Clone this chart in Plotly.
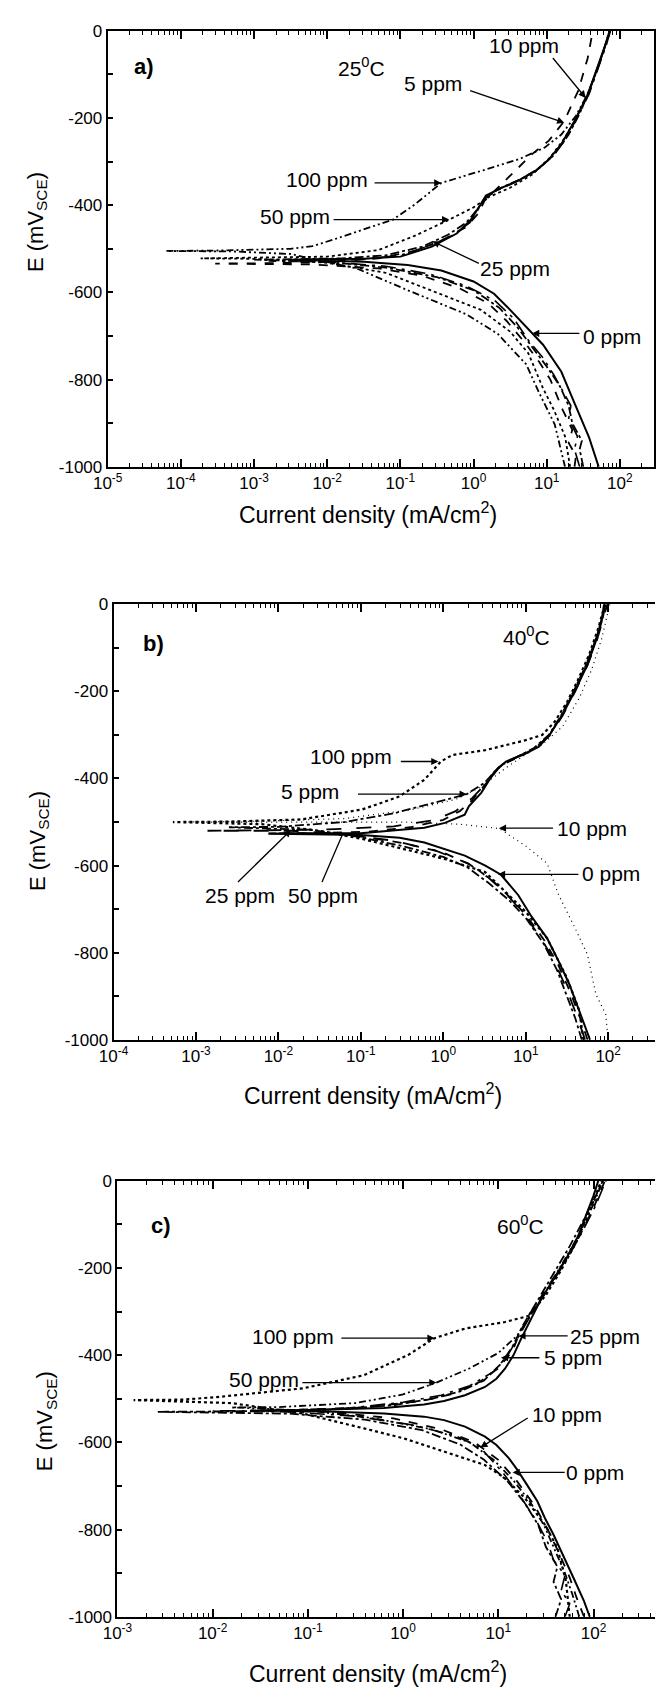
import numpy as np
import plotly.graph_objects as go

W, H = 656, 1696
FONT = "Liberation Sans, Arial, sans-serif"

# ---------------- Panel a) 25 C : log10(i / mA cm-2) and E (mV vs SCE) ----------------
a_0ppm_logi = [1.71, 1.58, 1.39, 1.2, 0.95, 0.8, 0.5, 0.28, 0.0, -0.44, -0.9, -1.5, -2.0, -2.5,
               -2.2, -1.5, -1.0, -0.57, -0.23, -0.04, 0.09, 0.17, 0.36, 0.63, 0.84, 1.03, 1.2, 1.38, 1.56, 1.69, 1.8, 1.86]
a_0ppm_E = [-1000, -933, -858, -782, -720, -693, -640, -603, -575, -550, -537, -530, -527, -525,
            -524, -523, -518, -495, -465, -434, -400, -378, -362, -342, -322, -295, -260, -207, -147, -86, -33, 0]

a_5ppm_logi = [1.5, 1.45, 1.48, 1.35, 1.3, 1.18, 1.0, 0.8, 0.6, 0.35, 0.0, -0.5, -1.2, -2.0, -3.0,
               -2.5, -1.8, -1.2, -0.7, -0.35, -0.1, 0.05, 0.15, 0.35, 0.65, 0.9, 1.1, 1.3, 1.45, 1.6, 1.73, 1.82, 1.87]
a_5ppm_E = [-1000, -960, -940, -900, -860, -815, -770, -725, -680, -635, -595, -565, -543, -530, -525,
            -524, -522, -515, -495, -468, -440, -410, -385, -362, -340, -315, -285, -238, -190, -130, -70, -25, 0]

a_10ppm_logi = [1.38, 1.4, 1.3, 1.35, 1.22, 1.15, 1.05, 0.9, 0.7, 0.45, 0.2, -0.2, -0.7, -1.3, -2.2, -3.53,
                -2.8, -2.0, -1.3, -0.8, -0.4, -0.1, 0.06, 0.15, 0.3, 0.44, 0.8, 1.03, 1.24, 1.43, 1.56, 1.63]
a_10ppm_E = [-1000, -975, -945, -915, -870, -840, -800, -760, -715, -665, -625, -590, -562, -545, -536, -534,
             -533, -530, -522, -505, -478, -450, -420, -390, -365, -343, -283, -252, -207, -138, -63, 0]

a_25ppm_logi = [1.45, 1.38, 1.42, 1.3, 1.33, 1.2, 1.1, 0.95, 0.75, 0.55, 0.3, -0.1, -0.6, -1.2, -2.0, -2.8,
                -2.2, -1.6, -1.0, -0.6, -0.3, -0.05, 0.08, 0.15, 0.3, 0.6, 0.85, 1.05, 1.22, 1.4, 1.58, 1.7, 1.82, 1.87]
a_25ppm_E = [-1000, -960, -930, -890, -860, -820, -790, -750, -710, -660, -620, -585, -558, -540, -530, -528,
             -527, -525, -515, -493, -470, -440, -405, -385, -368, -345, -322, -293, -258, -205, -145, -86, -30, 0]

a_50ppm_logi = [1.32, 1.25, 1.1, 0.95, 0.75, 0.5, 0.1, -0.5, -1.2, -2.0, -3.0, -3.73,
                -3.0, -2.0, -1.3, -0.8, -0.33, 0.0, 0.2, 0.5, 0.8, 1.05, 1.25, 1.42, 1.57, 1.7, 1.8, 1.87]
a_50ppm_E = [-1000, -930, -870, -820, -740, -690, -640, -600, -555, -532, -523, -522,
             -521, -518, -503, -470, -433, -405, -382, -360, -330, -290, -245, -195, -140, -85, -35, 0]

a_100ppm_logi = [1.25, 1.11, 0.89, 0.72, 0.33, -0.1, -0.9, -1.6, -2.5, -3.3, -4.2,
                 -3.5, -2.5, -2.2, -1.9, -1.5, -1.1, -0.8, -0.44, 0.13, 0.63, 0.97, 1.2, 1.4, 1.56, 1.7, 1.8, 1.86]
a_100ppm_E = [-1000, -903, -828, -765, -695, -650, -595, -545, -512, -506, -505,
              -504, -500, -494, -478, -455, -433, -398, -349, -320, -294, -268, -238, -195, -145, -86, -35, 0]

# ---------------- Panel b) 40 C ----------------
b_0ppm_logi = [1.78, 1.65, 1.53, 1.4, 1.26, 1.06, 0.91, 0.7, 0.51, 0.26, -0.23, -0.53, -1.0, -1.6, -2.12,
               -1.8, -1.0, -0.23, 0.02, 0.26, 0.31, 0.46, 0.56, 0.66, 0.76, 0.96, 1.16, 1.3, 1.45, 1.6, 1.75, 1.85, 1.92, 1.95]
b_0ppm_E = [-1000, -933, -873, -820, -767, -714, -668, -621, -600, -577, -547, -536, -530, -528, -527,
            -526, -526, -513, -502, -483, -464, -433, -403, -377, -361, -346, -327, -297, -252, -198, -138, -85, -40, 0]

b_5ppm_logi = [1.68, 1.6, 1.5, 1.38, 1.22, 1.0, 0.8, 0.55, 0.3, 0.0, -0.5, -1.0, -1.6, -2.6,
               -2.0, -1.2, -0.6, -0.1, 0.284, 0.5, 0.62, 0.72, 0.9, 1.1, 1.28, 1.43, 1.58, 1.73, 1.86, 1.97]
b_5ppm_E = [-1000, -950, -900, -840, -780, -720, -680, -640, -605, -580, -555, -535, -518, -512,
            -511, -500, -480, -455, -436, -410, -385, -368, -350, -330, -300, -255, -200, -140, -75, 0]

b_10ppm_logi = [2.0, 1.97, 1.85, 1.75, 1.6, 1.4, 1.26, 1.0, 0.68, 0.2, -0.5, -1.5, -2.5, -3.1,
                -2.2, -1.2, -0.4, 0.15, 0.45, 0.62, 0.8, 1.0, 1.2, 1.45, 1.65, 1.8, 1.92, 2.02]
b_10ppm_E = [-1000, -941, -895, -805, -744, -668, -595, -555, -515, -505, -500, -500, -500, -500,
             -498, -492, -472, -448, -420, -395, -370, -345, -322, -280, -215, -150, -80, 0]

b_25ppm_logi = [1.72, 1.62, 1.5, 1.35, 1.18, 0.98, 0.78, 0.55, 0.3, -0.1, -0.6, -1.2, -1.846, -2.86,
                -2.2, -1.4, -0.6, -0.1, 0.15, 0.35, 0.5, 0.62, 0.72, 0.92, 1.12, 1.3, 1.45, 1.6, 1.75, 1.86, 1.95, 1.99]
b_25ppm_E = [-1000, -945, -885, -820, -765, -712, -668, -628, -595, -565, -543, -528, -520, -520,
             -519, -517, -510, -495, -475, -445, -415, -385, -365, -348, -330, -300, -255, -200, -140, -85, -30, 0]

b_50ppm_logi = [1.75, 1.66, 1.55, 1.4, 1.22, 1.02, 0.82, 0.6, 0.35, 0.0, -0.5, -1.219, -2.12,
                -1.5, -0.9, -0.4, 0.0, 0.2, 0.35, 0.48, 0.6, 0.7, 0.9, 1.1, 1.28, 1.43, 1.58, 1.73, 1.85, 1.93, 1.97]
b_50ppm_E = [-1000, -950, -895, -830, -770, -718, -675, -635, -600, -570, -548, -527, -526,
             -525, -522, -512, -495, -475, -450, -420, -392, -370, -352, -333, -302, -258, -203, -143, -85, -35, 0]

b_100ppm_logi = [1.7, 1.65, 1.5, 1.26, 1.0, 0.76, 0.51, 0.02, -0.48, -0.98, -1.5, -2.2, -3.28,
                 -2.6, -1.72, -0.98, -0.53, -0.23, -0.03, 0.11, 0.51, 1.0, 1.2, 1.35, 1.5, 1.63, 1.77, 1.88, 1.96]
b_100ppm_E = [-1000, -933, -858, -767, -706, -661, -615, -585, -562, -539, -520, -505, -500,
              -499, -494, -471, -441, -403, -361, -346, -335, -312, -300, -270, -225, -175, -115, -55, 0]

# ---------------- Panel c) 60 C ----------------
c_0ppm_logi = [1.96, 1.9, 1.79, 1.68, 1.58, 1.49, 1.41, 1.3, 1.2, 1.11, 0.98, 0.86, 0.65, 0.43, 0.22, -0.2, -0.8, -1.5,
               -1.0, -0.2, 0.22, 0.43, 0.65, 0.86, 0.98, 1.07, 1.16, 1.24, 1.33, 1.45, 1.58, 1.71, 1.84, 1.92, 2.0, 2.05]
c_0ppm_E = [-1000, -964, -911, -857, -812, -774, -735, -697, -663, -636, -606, -587, -564, -549, -541, -534, -529, -527,
            -526, -521, -513, -505, -492, -473, -454, -431, -400, -362, -324, -271, -226, -180, -126, -80, -34, 0]

c_5ppm_logi = [1.6, 1.66, 1.58, 1.62, 1.5, 1.42, 1.28, 1.1, 0.85, 0.6, 0.2, -0.4, -1.2, -2.58,
               -1.8, -0.8, -0.1, 0.3, 0.6, 0.85, 1.027, 1.15, 1.25, 1.4, 1.57, 1.75, 1.92, 2.1]
c_5ppm_E = [-1000, -960, -920, -885, -840, -790, -740, -690, -640, -605, -572, -548, -534, -530,
            -529, -525, -515, -500, -483, -458, -420, -380, -335, -280, -215, -150, -80, 0]

c_10ppm_logi = [1.7, 1.75, 1.66, 1.7, 1.58, 1.52, 1.4, 1.25, 1.05, 0.811, 0.55, 0.1, -0.5, -1.2, -2.0,
                -1.4, -0.6, 0.0, 0.4, 0.7, 0.95, 1.1, 1.22, 1.35, 1.52, 1.7, 1.87, 2.02, 2.13]
c_10ppm_E = [-1000, -970, -940, -905, -870, -830, -780, -730, -670, -612, -585, -560, -540, -530, -528,
             -527, -522, -508, -492, -470, -438, -400, -355, -305, -250, -188, -122, -58, 0]

c_25ppm_logi = [1.9, 1.82, 1.75, 1.65, 1.52, 1.38, 1.2, 1.0, 0.75, 0.4, -0.1, -0.8, -1.6,
                -1.2, -0.4, 0.2, 0.5, 0.8, 1.0, 1.15, 1.211, 1.33, 1.5, 1.68, 1.85, 2.0, 2.12]
c_25ppm_E = [-1000, -955, -910, -860, -800, -745, -690, -640, -600, -570, -545, -530, -527,
             -526, -520, -505, -490, -462, -430, -390, -356, -305, -250, -190, -128, -62, 0]

c_50ppm_logi = [1.85, 1.78, 1.7, 1.6, 1.48, 1.33, 1.15, 0.95, 0.7, 0.3, -0.3, -1.0, -1.8,
                -1.3, -0.5, 0.0, 0.35, 0.7, 1.0, 1.2, 1.32, 1.48, 1.65, 1.82, 1.97, 2.1]
c_50ppm_E = [-1000, -950, -900, -850, -790, -735, -685, -640, -600, -570, -545, -527, -520,
             -519, -510, -490, -463, -430, -395, -355, -315, -260, -198, -135, -68, 0]

c_100ppm_logi = [1.75, 1.71, 1.62, 1.49, 1.28, 1.07, 0.86, 0.43, 0.01, -0.41, -1.05, -1.8, -2.83,
                 -2.3, -1.9, -1.05, -0.41, 0.05, 0.33, 0.65, 1.07, 1.32, 1.5, 1.66, 1.82, 1.96, 2.08]
c_100ppm_E = [-1000, -918, -842, -789, -728, -682, -652, -621, -591, -568, -534, -510, -503,
              -502, -495, -476, -446, -400, -361, -339, -324, -310, -262, -205, -140, -70, 0]

# axis tick labels
x_tick_exponents = {"a": list(range(-5, 3)), "b": list(range(-4, 3)), "c": list(range(-3, 3))}
y_tick_values = [-1000, -800, -600, -400, -200, 0]

# ---------------- styles / layout geometry ----------------
DDOT = "7px,3px,2px,3px,2px,3px"
styles = {
    "a": [(a_0ppm_logi, a_0ppm_E, "solid", 2.0),
          (a_5ppm_logi, a_5ppm_E, "dashdot", 1.8),
          (a_10ppm_logi, a_10ppm_E, "dash", 1.8),
          (a_25ppm_logi, a_25ppm_E, "longdashdot", 1.6),
          (a_50ppm_logi, a_50ppm_E, "dot", 1.8),
          (a_100ppm_logi, a_100ppm_E, DDOT, 1.8)],
    "b": [(b_0ppm_logi, b_0ppm_E, "solid", 2.0),
          (b_5ppm_logi, b_5ppm_E, "dashdot", 1.8),
          (b_10ppm_logi, b_10ppm_E, "1px,4px", 1.2),
          (b_25ppm_logi, b_25ppm_E, "longdash", 1.8),
          (b_50ppm_logi, b_50ppm_E, "dash", 1.8),
          (b_100ppm_logi, b_100ppm_E, "dot", 2.2)],
    "c": [(c_0ppm_logi, c_0ppm_E, "solid", 2.0),
          (c_5ppm_logi, c_5ppm_E, "dashdot", 1.8),
          (c_10ppm_logi, c_10ppm_E, "longdashdot", 1.6),
          (c_25ppm_logi, c_25ppm_E, "dash", 1.8),
          (c_50ppm_logi, c_50ppm_E, DDOT, 1.8),
          (c_100ppm_logi, c_100ppm_E, "dot", 2.2)],
}

# plot-area boxes in pixels (left, right, top, bottom) and x log-ranges
boxes = {"a": (95, 655, 22, 463), "b": (101, 656, 602, 1042.5), "c": (105, 656, 1185, 1626)}
decade_px = {"a": 75.0, "b": 84.5, "c": 97.6}
axis_ids = {"a": "", "b": "2", "c": "3"}

fig = go.Figure()
for p in ["a", "b", "c"]:
    aid = axis_ids[p]
    for logi, E, dash, wdt in styles[p]:
        fig.add_trace(go.Scatter(x=10 ** np.array(logi), y=E, mode="lines",
                                 line=dict(color="black", width=wdt, dash=dash),
                                 xaxis="x" + aid, yaxis="y" + aid, showlegend=False))

layout = dict(width=W, height=H, margin=dict(l=0, r=0, t=0, b=0),
              paper_bgcolor="white", plot_bgcolor="white", showlegend=False,
              font=dict(family=FONT, color="black", size=17))

for p in ["a", "b", "c"]:
    aid = axis_ids[p]
    l, r, t, b = boxes[p]
    exps = x_tick_exponents[p]
    lo = exps[0]
    hi = lo + (r - l) / decade_px[p]
    minors = [m * 10.0 ** e for e in range(lo, 3) for m in range(2, 10) if np.log10(m * 10.0 ** e) < hi]
    layout["xaxis" + aid] = dict(
        type="log", domain=[l / W, r / W], range=[lo, hi], anchor="y" + aid,
        tickvals=[10.0 ** e for e in exps], ticktext=["10<sup>%d</sup>" % e for e in exps],
        ticks="inside", ticklen=8, tickwidth=1.5, tickcolor="black",
        minor=dict(tickvals=minors, ticks="inside", ticklen=4, tickwidth=1.2, tickcolor="black"),
        showline=True, linewidth=2, linecolor="black", mirror="allticks",
        showgrid=False, zeroline=False, tickfont=dict(size=17, family=FONT))
    layout["yaxis" + aid] = dict(
        domain=[1 - b / H, 1 - t / H], range=[-1000, 0], anchor="x" + aid,
        tickvals=y_tick_values, ticktext=[str(v) for v in y_tick_values],
        ticks="inside", ticklen=5, tickwidth=1.5, tickcolor="black",
        minor=dict(dtick=100, ticks="inside", ticklen=5, tickwidth=1.5, tickcolor="black"),
        showline=True, linewidth=2, linecolor="black", mirror=(p == "a"),
        showgrid=False, zeroline=False, tickfont=dict(size=17, family=FONT))

anns = []


def txt(p, x, y, s, size=21, bold=False):
    aid = axis_ids[p]
    anns.append(dict(xref="x" + aid, yref="y" + aid, x=x, y=y, text=("<b>%s</b>" % s) if bold else s,
                     showarrow=False, font=dict(size=size, family=FONT, color="black"),
                     xanchor="center", yanchor="middle"))


def arr(p, tx, ty, hx, hy, head=2):
    aid = axis_ids[p]
    anns.append(dict(xref="x" + aid, yref="y" + aid, axref="x" + aid, ayref="y" + aid,
                     x=hx, y=hy, ax=tx, ay=ty, text="", showarrow=True, arrowhead=head,
                     arrowsize=1.1, arrowwidth=1.3, arrowcolor="black", standoff=0, startstandoff=0))


# panel a
txt("a", -4.507, -82, "a)", 22, True)
txt("a", -1.533, -82, "25<sup>0</sup>C", 21)
txt("a", 0.693, -34, "10 ppm"); arr("a", 1.067, -59, 1.533, -154)
txt("a", -0.56, -120, "5 ppm"); arr("a", -0.067, -136, 1.24, -211)
txt("a", -2.0, -342, "100 ppm"); arr("a", -1.373, -349, -0.44, -349)
txt("a", -2.44, -426, "50 ppm"); arr("a", -1.933, -433, -0.333, -433)
txt("a", 0.56, -546, "25 ppm"); arr("a", 0.093, -535, -0.56, -483)
txt("a", 1.893, -701, "0 ppm"); arr("a", 1.467, -694, 0.8, -694)
# panel b
txt("b", -3.515, -89, "b)", 22, True)
txt("b", 1.006, -73, "40<sup>0</sup>C", 21)
txt("b", -1.124, -350, "100 ppm"); arr("b", -0.533, -361, -0.059, -361)
txt("b", -1.621, -430, "5 ppm"); arr("b", -1.053, -436, 0.284, -436)
txt("b", 1.799, -514, "10 ppm"); arr("b", 1.349, -514, 0.675, -514)
txt("b", 2.036, -618, "0 ppm"); arr("b", 1.657, -620, 0.663, -620)
txt("b", -2.467, -668, "25 ppm"); arr("b", -2.509, -641, -1.846, -518)
txt("b", -1.456, -668, "50 ppm"); arr("b", -1.479, -641, -1.219, -527, head=0)
# panel c
txt("c", -2.539, -102, "c)", 22, True)
txt("c", 1.232, -102, "60<sup>0</sup>C", 21)
txt("c", -1.156, -358, "100 ppm"); arr("c", -0.664, -361, 0.33, -361)
txt("c", -1.463, -456, "50 ppm"); arr("c", -1.074, -463, 0.35, -463)
txt("c", 2.123, -358, "25 ppm"); arr("c", 1.744, -356, 1.211, -356)
txt("c", 1.785, -406, "5 ppm"); arr("c", 1.447, -406, 1.027, -406)
txt("c", 1.723, -535, "10 ppm"); arr("c", 1.324, -542, 0.811, -612)
txt("c", 2.02, -669, "0 ppm"); arr("c", 1.713, -669, 1.15, -669)

# axis titles (paper coordinates derived from pixel layout)
xtitle_pos = {"a": (362, 510), "b": (367, 1097), "c": (372, 1682)}
ytitle_pos = {"a": (22, 215), "b": (24, 841), "c": (32, 1428)}
for p in ["a", "b", "c"]:
    xp, yp = xtitle_pos[p]
    anns.append(dict(xref="paper", yref="paper", x=xp / W, y=1 - yp / H,
                     text="Current density (mA/cm<sup>2</sup>)", showarrow=False,
                     font=dict(size=23, family=FONT, color="black"), xanchor="center", yanchor="middle"))
    xp, yp = ytitle_pos[p]
    anns.append(dict(xref="paper", yref="paper", x=xp / W, y=1 - yp / H,
                     text="E (mV<sub>SCE</sub>)", showarrow=False, textangle=-90,
                     font=dict(size=22, family=FONT, color="black"), xanchor="center", yanchor="middle"))

layout["annotations"] = anns
fig.update_layout(**layout)
fig.write_html("out.html")
